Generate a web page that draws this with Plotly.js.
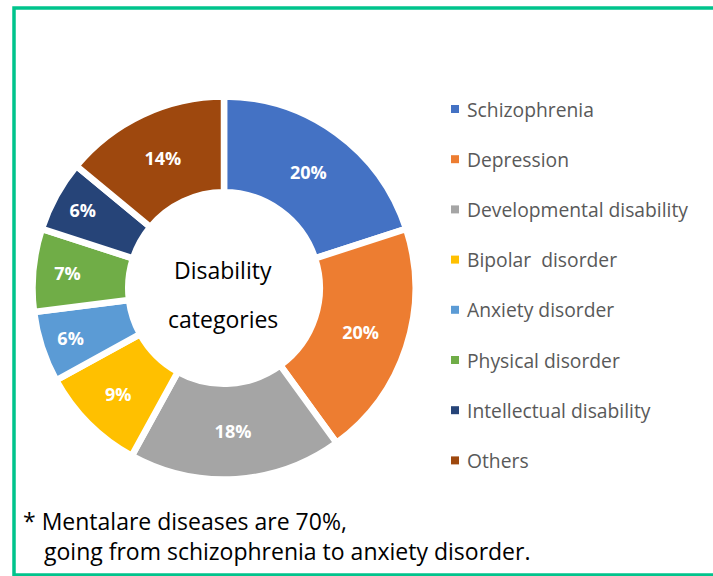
<!DOCTYPE html>
<html>
<head>
<meta charset="utf-8">
<script src="https://cdn.plot.ly/plotly-3.0.1.min.js"></script>
<style>html,body{margin:0;padding:0;background:#fff;}#chart{width:713px;height:576px;}</style>
</head>
<body>
<div id="chart"></div>
<script>
const categories = ["Schizophrenia", "Depression", "Developmental disability", "Bipolar  disorder",
  "Anxiety disorder", "Physical disorder", "Intellectual disability", "Others"];
const shares = [20, 20, 18, 9, 6, 7, 6, 14];
const colors = ["#4472C4", "#ED7D31", "#A5A5A5", "#FFC000", "#5B9BD5", "#70AD47", "#264478", "#9E480E"];
const centerLines = ["Disability", "categories"];
const noteLines = ["* Mentalare diseases are 70%,", "going from schizophrenia to anxiety disorder."];

const W = 713, H = 576;
const cx = 224, cy = 288, R = 191.5;
const FONT = "'Open Sans', Lato, sans-serif";

const trace = {
  type: "pie",
  labels: categories,
  values: shares,
  sort: false,
  direction: "clockwise",
  rotation: 0,
  hole: 0.50,
  marker: { colors: colors, line: { color: "#ffffff", width: 6.5 } },
  texttemplate: "%{percent:.0%}",
  textposition: "inside",
  insidetextorientation: "horizontal",
  textfont: { family: FONT, size: 18, color: "#ffffff", weight: "bold" },
  domain: { x: [(cx - R) / W, (cx + R) / W], y: [(H - cy - R) / H, (H - cy + R) / H] },
  showlegend: false,
  hoverinfo: "label+percent"
};

const shapes = [{
  type: "rect", xref: "paper", yref: "paper",
  x0: 14 / W, x1: 1.02, y0: (H - 575) / H, y1: (H - 8) / H,
  line: { color: "#00C48C", width: 3.5 }, fillcolor: "rgba(0,0,0,0)", layer: "below"
}];
const annotations = [];

// custom legend built from the category / colour arrays
categories.forEach((name, i) => {
  const yc = 109 + i * 50.2;
  shapes.push({
    type: "rect", xref: "paper", yref: "paper",
    x0: 451 / W, x1: 459 / W, y0: (H - yc - 4) / H, y1: (H - yc + 4) / H,
    line: { width: 0 }, fillcolor: colors[i]
  });
  annotations.push({
    xref: "paper", yref: "paper", x: 465 / W, y: (H - yc) / H,
    xanchor: "left", yanchor: "middle", showarrow: false,
    text: name.replace(/  /g, " &nbsp;"),
    font: { family: FONT, size: 19.3, color: "#595959" }
  });
});

// centre label
centerLines.forEach((t, i) => {
  annotations.push({
    xref: "paper", yref: "paper", x: 223 / W, y: (H - (270 + i * 49)) / H,
    xanchor: "center", yanchor: "middle", showarrow: false,
    text: t, font: { family: FONT, size: 23, color: "#000000" }
  });
});

// footnote
noteLines.forEach((t, i) => {
  annotations.push({
    xref: "paper", yref: "paper", x: (i === 0 ? 21 : 42) / W, y: (H - (521 + i * 30)) / H,
    xanchor: "left", yanchor: "middle", showarrow: false,
    text: t, font: { family: FONT, size: 23, color: "#000000" }
  });
});

const layout = {
  width: W, height: H,
  margin: { l: 0, r: 0, t: 0, b: 0 },
  paper_bgcolor: "#ffffff", plot_bgcolor: "#ffffff",
  showlegend: false,
  shapes: shapes,
  annotations: annotations
};

Plotly.newPlot("chart", [trace], layout, { displayModeBar: false, staticPlot: true });
</script>
</body>
</html>
